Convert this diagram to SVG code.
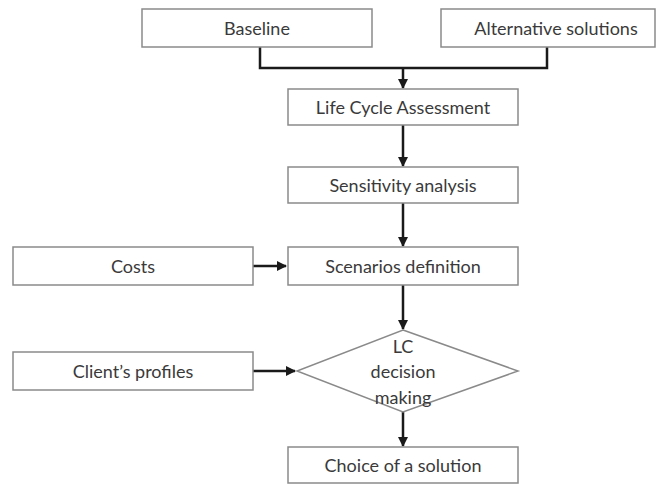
<svg xmlns="http://www.w3.org/2000/svg" width="670" height="485" viewBox="0 0 670 485">
<style>
.box{fill:#fff;stroke:#8a8a8a;stroke-width:1.5}
.t{font-family:Lato,"Open Sans",sans-serif;font-size:18px;fill:#3a3a3a;text-anchor:middle;dominant-baseline:central}
.c{fill:none;stroke:#1a1a1a;stroke-width:2.5}
</style>
<defs>
<marker id="ah" viewBox="0 0 10 10" refX="9" refY="5" markerWidth="4" markerHeight="4" orient="auto" markerUnits="strokeWidth">
<path d="M0,0 L10,5 L0,10 z" fill="#1a1a1a"/>
</marker>
</defs>
<rect width="670" height="485" fill="#fff"/>
<g id="connectors">
<path class="c" d="M260,47 V68 H547 V47"/>
<path class="c" d="M403,68 V88" marker-end="url(#ah)"/>
<path class="c" d="M403,125 V166" marker-end="url(#ah)"/>
<path class="c" d="M403,203 V246" marker-end="url(#ah)"/>
<path class="c" d="M253,266 H286" marker-end="url(#ah)"/>
<path class="c" d="M403,285 V329" marker-end="url(#ah)"/>
<path class="c" d="M253,371 H295" marker-end="url(#ah)"/>
<path class="c" d="M403,412 V446" marker-end="url(#ah)"/>
</g>
<g id="baseline"><rect class="box" x="142" y="9" width="230" height="38"/><text class="t" x="257" y="28">Baseline</text></g>
<g id="alternatives"><rect class="box" x="441" y="9" width="214" height="38"/><text class="t" x="556" y="28">Alternative solutions</text></g>
<g id="lca"><rect class="box" x="288" y="89" width="230" height="36"/><text class="t" x="403" y="107">Life Cycle Assessment</text></g>
<g id="sensitivity"><rect class="box" x="288" y="167" width="230" height="36"/><text class="t" x="403" y="185">Sensitivity analysis</text></g>
<g id="costs"><rect class="box" x="13" y="247" width="240" height="38"/><text class="t" x="133" y="266">Costs</text></g>
<g id="scenarios"><rect class="box" x="288" y="247" width="230" height="38"/><text class="t" x="403" y="266">Scenarios definition</text></g>
<g id="clients"><rect class="box" x="13" y="352" width="240" height="38"/><text class="t" x="133" y="371">Client’s profiles</text></g>
<g id="decision"><polygon class="box" points="403,330 518,371 403,412 297,371"/>
<text class="t" x="403" y="346">LC</text><text class="t" x="403" y="371">decision</text><text class="t" x="403" y="397">making</text></g>
<g id="choice"><rect class="box" x="288" y="447" width="230" height="36"/><text class="t" x="403" y="465">Choice of a solution</text></g>
</svg>
